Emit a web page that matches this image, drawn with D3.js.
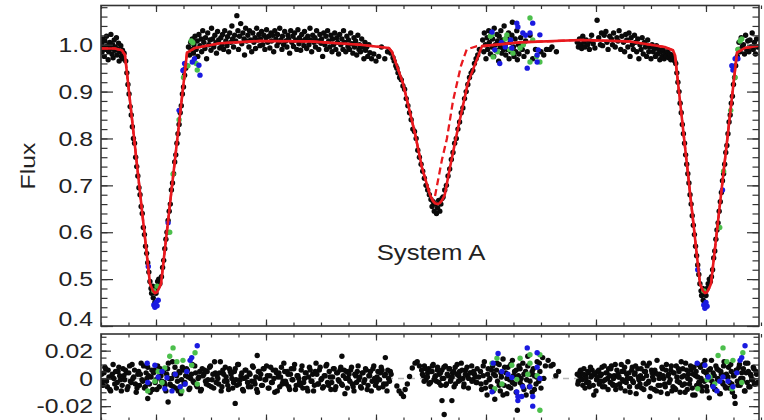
<!DOCTYPE html>
<html><head><meta charset="utf-8">
<script src="https://cdn.jsdelivr.net/npm/d3@7"></script>
<style>html,body{margin:0;padding:0;background:#fff;}svg{display:block;}</style>
</head><body><svg id="c" width="764" height="420"></svg>
<script>
// ---------------- DATA ----------------
const phaseMajorTicks = [0, 0.2, 0.4, 0.6, 0.8, 1.0];
const fluxTicks = [0.4, 0.5, 0.6, 0.7, 0.8, 0.9, 1.0];
const fluxTickLabels = ["0.4", "0.5", "0.6", "0.7", "0.8", "0.9", "1.0"];
const residTicks = [-0.02, 0, 0.02];
const residTickLabels = ["-0.02", "0", "0.02"];
const panelTitle = "System A";
const yTitle = "Flux";

// model light curve (solid) and alternative model (dashed): [phase, flux]
const modelSolid = [[-0.1,0.992],[-0.075,0.992],[-0.062,0.988],[-0.0564,0.978],[-0.0109,0.49],[-0.0055,0.475],[-0.0018,0.47],[0.0018,0.472],[0.0055,0.48],[0.0091,0.49],[0.0564,0.983],[0.071,0.993],[0.116,1.003],[0.189,1.008],[0.28,1.007],[0.371,1.0],[0.4236,0.993],[0.429,0.985],[0.449,0.918],[0.471,0.81],[0.4836,0.738],[0.498,0.68],[0.503,0.668],[0.507,0.662],[0.512,0.66],[0.516,0.662],[0.52,0.668],[0.525,0.68],[0.5345,0.738],[0.547,0.81],[0.567,0.918],[0.5927,0.997],[0.662,1.005],[0.771,1.01],[0.862,1.007],[0.925,0.995],[0.94,0.988],[0.9436,0.978],[0.9891,0.49],[0.9945,0.475],[0.9982,0.47],[1.0018,0.472],[1.0055,0.48],[1.0091,0.49],[1.0564,0.983],[1.071,0.993],[1.0964,0.998]];
const modelDashed = [[-0.1,0.992],[-0.075,0.992],[-0.062,0.988],[-0.0564,0.978],[-0.0109,0.49],[-0.0055,0.475],[-0.0018,0.47],[0.0018,0.472],[0.0055,0.48],[0.0091,0.49],[0.0564,0.983],[0.071,0.993],[0.116,1.003],[0.189,1.008],[0.28,1.007],[0.371,1.0],[0.4236,0.993],[0.429,0.985],[0.449,0.918],[0.471,0.81],[0.4836,0.738],[0.498,0.68],[0.503,0.668],[0.507,0.675],[0.511,0.70],[0.52,0.755],[0.529,0.80],[0.54,0.88],[0.5545,0.955],[0.565,0.99],[0.5836,0.997],[0.5927,0.997],[0.662,1.005],[0.771,1.01],[0.862,1.007],[0.925,0.995],[0.94,0.988],[0.9436,0.978],[0.9891,0.49],[0.9945,0.475],[0.9982,0.47],[1.0018,0.472],[1.0055,0.48],[1.0091,0.49],[1.0564,0.983],[1.071,0.993],[1.0964,0.998]];

// black observations, top panel: [phase, flux]
const blackFlux = [
[-0.099,1.002],[-0.098,0.985],[-0.097,1.012],[-0.095,0.995],[-0.094,0.975],[-0.093,1.008],[-0.091,0.99],[-0.09,1.018],[-0.088,0.998],[-0.087,0.968],[-0.086,0.985],[-0.084,1.005],[-0.083,0.992],[-0.082,1.022],[-0.08,0.98],[-0.079,1.0],[-0.078,0.972],[-0.076,1.01],[-0.075,0.988],[-0.074,0.995],[-0.072,1.015],[-0.071,0.978],[-0.07,0.99],[-0.068,1.003],[-0.067,0.965],[-0.066,0.985],[-0.064,0.998],[-0.063,0.975],[-0.061,0.988],[-0.06,0.97],[-0.058,0.982],
[-0.055,0.965],[-0.053,0.94],[-0.051,0.915],[-0.049,0.895],[-0.047,0.868],[-0.045,0.85],[-0.043,0.825],[-0.041,0.80],[-0.039,0.79],[-0.037,0.76],[-0.035,0.74],[-0.033,0.72],[-0.031,0.695],[-0.029,0.68],[-0.027,0.655],[-0.025,0.64],[-0.023,0.61],[-0.021,0.595],[-0.019,0.57],[-0.017,0.555],[-0.015,0.535],[-0.013,0.515],
[-0.011,0.495],[-0.009,0.48],[-0.008,0.47],[-0.006,0.485],[-0.005,0.46],[-0.003,0.475],[-0.002,0.45],[0.0,0.47],[0.002,0.482],[0.003,0.495],[0.005,0.5],[0.007,0.49],
[0.01,0.505],[0.012,0.525],[0.014,0.54],[0.016,0.565],[0.018,0.585],[0.02,0.6],[0.022,0.625],[0.024,0.645],[0.026,0.66],[0.028,0.69],[0.03,0.705],[0.032,0.725],[0.034,0.75],[0.036,0.765],[0.038,0.79],[0.04,0.81],[0.042,0.83],[0.044,0.855],[0.046,0.87],[0.048,0.895],[0.05,0.91],[0.052,0.935],[0.054,0.95],
[0.059,0.995],[0.061,0.978],[0.063,1.005],[0.064,0.99],[0.066,1.012],[0.068,0.982],[0.069,1.0],[0.071,1.018],[0.073,0.99],[0.075,1.008],[0.076,0.975],[0.078,1.022],[0.08,0.998],[0.082,1.012],[0.083,0.985],[0.085,1.03],[0.087,1.005],[0.089,0.992],[0.09,1.015],[0.092,0.97],[0.094,1.025],[0.096,1.0],[0.098,1.01],[0.1,0.988],[0.101,1.035],[0.103,1.012],[0.105,0.995],[0.107,1.02],[0.109,1.004],[0.11,0.982],[0.112,1.028],[0.114,1.01],[0.116,0.993],[0.118,1.015],[0.12,1.0],[0.121,1.022],[0.123,0.99],[0.125,1.03],[0.127,1.008],[0.129,0.998],[0.13,1.017],[0.132,0.985],[0.134,1.025],[0.136,1.005],[0.138,1.04],[0.139,1.012],[0.141,0.995],[0.143,1.02],[0.145,1.008],[0.147,1.062],[0.149,1.03],[0.15,0.99],[0.152,1.018],[0.154,1.045],[0.156,1.002],[0.158,1.025],[0.16,1.012],[0.161,0.978],[0.163,1.035],[0.165,1.008],[0.167,1.02],[0.169,0.995],[0.17,1.03],[0.172,1.01],[0.174,0.985],[0.176,1.025],[0.178,1.005],[0.18,1.015],[0.181,0.992],[0.183,1.035],[0.185,1.01],[0.187,1.022],[0.189,0.998],[0.19,1.012],[0.192,1.028],[0.194,1.0],[0.196,1.02],[0.198,0.99],[0.2,1.015],[0.201,1.032],[0.203,1.005],[0.205,1.018],[0.207,0.993],[0.209,1.025],[0.21,1.008],[0.212,1.02],[0.214,0.985],[0.216,1.03],[0.218,1.012],[0.22,0.998],[0.221,1.022],[0.223,1.005],[0.225,1.035],[0.227,1.01],[0.229,0.99],[0.23,1.018],[0.232,1.0],[0.234,1.028],[0.236,1.008],[0.238,0.995],[0.24,1.02],[0.241,1.012],[0.243,0.982],[0.245,1.03],[0.247,1.005],[0.249,1.018],[0.25,0.996],[0.252,1.025],[0.254,1.01],[0.256,0.99],[0.258,1.032],[0.26,1.002],[0.261,1.015],[0.263,0.988],[0.265,1.022],[0.267,1.008],[0.269,0.998],[0.27,1.028],[0.272,1.012],[0.274,0.992],[0.276,1.018],[0.278,1.0],[0.28,1.035],[0.281,1.01],[0.283,0.985],[0.285,1.02],[0.287,1.005],[0.289,1.015],[0.29,0.995],[0.292,1.03],[0.294,1.008],[0.296,0.99],[0.298,1.022],[0.3,1.003],[0.301,1.012],[0.303,0.975],[0.305,1.025],[0.307,1.0],[0.309,1.018],[0.31,0.99],[0.312,1.03],[0.314,1.008],[0.316,0.995],[0.318,1.02],[0.32,0.985],[0.321,1.012],[0.323,1.0],[0.325,1.025],[0.327,0.99],[0.329,1.015],[0.33,1.005],[0.332,0.98],[0.334,1.022],[0.336,1.0],[0.338,1.012],[0.34,0.99],[0.341,1.03],[0.343,1.005],[0.345,0.985],[0.347,1.018],[0.349,0.996],[0.35,1.01],[0.352,0.99],[0.354,1.025],[0.356,1.002],[0.358,0.982],[0.36,1.015],[0.361,0.995],[0.363,1.008],[0.365,0.978],[0.367,1.02],[0.369,0.99],[0.37,1.0],[0.372,0.985],[0.374,1.012],[0.376,0.995],[0.378,0.97],[0.38,1.005],[0.381,0.988],[0.383,0.995],[0.385,0.975],[0.387,1.0],[0.389,0.983],[0.392,0.97],[0.396,0.98],[0.4,0.965],[0.405,0.975],[0.41,0.995],[0.416,0.97],[0.421,0.985],
[0.427,0.982],[0.431,0.972],[0.433,0.965],[0.436,0.955],[0.438,0.95],[0.44,0.94],[0.443,0.93],[0.446,0.925],[0.449,0.912],[0.452,0.905],[0.455,0.885],[0.458,0.87],[0.461,0.855],[0.464,0.84],[0.467,0.82],[0.47,0.815],[0.473,0.8],[0.476,0.775],[0.479,0.76],[0.482,0.745],[0.485,0.73],[0.488,0.715],[0.491,0.7],[0.494,0.69],[0.497,0.68],
[0.5,0.67],[0.502,0.655],[0.504,0.665],[0.506,0.645],[0.508,0.66],[0.51,0.64],[0.512,0.652],[0.514,0.668],[0.516,0.645],[0.518,0.66],[0.52,0.672],[0.522,0.675],
[0.525,0.69],[0.528,0.7],[0.531,0.72],[0.534,0.735],[0.537,0.755],[0.54,0.77],[0.543,0.79],[0.546,0.8],[0.549,0.82],[0.552,0.835],[0.555,0.855],[0.558,0.865],[0.561,0.885],[0.564,0.9],[0.567,0.915],[0.57,0.93],[0.573,0.94],[0.576,0.945],[0.579,0.96],[0.582,0.97],[0.585,0.978],[0.588,0.99],
[0.594,1.01],[0.596,0.985],[0.597,1.025],[0.599,1.0],[0.6,0.97],[0.602,1.015],[0.603,0.99],[0.605,1.03],[0.606,1.005],[0.608,0.98],[0.609,1.02],[0.611,0.995],[0.612,1.012],[0.614,0.975],[0.615,1.035],[0.617,1.0],[0.618,0.988],[0.62,1.022],[0.621,1.008],[0.623,0.965],[0.624,1.018],[0.626,0.995],[0.627,1.03],[0.629,0.982],[0.63,1.01],[0.632,0.99],[0.633,1.04],[0.635,1.0],[0.636,0.978],[0.638,1.015],[0.639,0.99],[0.641,1.025],[0.642,0.97],[0.644,1.005],[0.645,0.985],[0.647,1.02],[0.648,1.048],[0.65,0.995],[0.651,0.975],[0.653,1.012],[0.654,0.985],[0.656,1.03],[0.657,0.968],[0.659,1.0],[0.66,0.98],[0.663,1.015],[0.666,0.99],[0.669,0.975],[0.672,1.008],[0.675,0.985],[0.68,1.02],[0.685,0.97],[0.69,0.99],[0.7,0.985],[0.705,0.978],[0.71,0.99],[0.716,0.99],[0.72,0.995],[0.728,0.985],
[0.766,1.005],[0.768,0.995],[0.77,1.012],[0.772,1.0],[0.774,0.992],[0.776,1.018],[0.778,1.005],[0.78,0.995],[0.782,1.01],[0.785,1.0],[0.788,0.99],[0.79,1.008],[0.792,1.02],[0.795,1.002],[0.798,0.993],[0.802,1.052],[0.805,1.015],[0.808,1.0],[0.81,1.025],[0.812,0.998],[0.815,1.02],[0.818,1.028],[0.82,1.005],[0.822,0.99],[0.825,1.018],[0.828,1.012],[0.83,1.0],[0.832,1.025],[0.835,0.995],[0.838,1.015],[0.84,1.008],[0.842,1.03],[0.845,0.99],[0.847,1.018],[0.85,1.005],[0.852,0.985],[0.854,1.022],[0.856,1.01],[0.858,0.995],[0.86,1.025],[0.862,0.975],[0.864,1.015],[0.866,1.0],[0.868,0.99],[0.87,1.02],[0.872,1.005],[0.874,0.985],[0.876,1.012],[0.878,0.97],[0.88,1.0],[0.882,0.99],[0.884,1.015],[0.886,0.98],[0.888,1.005],[0.89,0.995],[0.892,0.975],[0.894,1.01],[0.896,0.985],[0.898,0.995],[0.9,0.97],[0.902,1.0],[0.904,0.985],[0.906,0.992],[0.908,0.975],[0.91,0.998],[0.912,0.98],[0.914,0.99],[0.916,0.968],[0.918,0.985],[0.92,0.975],[0.922,0.99],[0.924,0.97],[0.926,0.982],[0.928,0.975],[0.93,0.985],[0.932,0.972],[0.934,0.98],[0.936,0.968],[0.938,0.978],
[0.941,0.97],[0.943,0.965],[0.945,0.96],[0.947,0.94],[0.949,0.92],[0.951,0.9],[0.953,0.875],[0.955,0.855],[0.957,0.83],[0.959,0.81],[0.961,0.79],[0.963,0.765],[0.965,0.745],[0.967,0.725],[0.969,0.705],[0.971,0.68],[0.973,0.66],[0.975,0.635],[0.977,0.615],[0.979,0.595],[0.981,0.57],[0.983,0.55],[0.985,0.53],[0.987,0.51],
[0.989,0.49],[0.991,0.475],[0.992,0.465],[0.994,0.48],[0.995,0.455],[0.997,0.47],[0.998,0.45],[1.0,0.465],[1.002,0.48],[1.004,0.49],[1.006,0.5],[1.008,0.495],
[1.01,0.505],[1.012,0.52],[1.014,0.545],[1.016,0.56],[1.018,0.585],[1.02,0.605],[1.022,0.62],[1.024,0.645],[1.026,0.665],[1.028,0.685],[1.03,0.71],[1.032,0.725],[1.034,0.745],[1.036,0.77],[1.038,0.785],[1.04,0.81],[1.042,0.835],[1.044,0.85],[1.046,0.875],[1.048,0.89],[1.05,0.915],[1.052,0.93],[1.054,0.955],
[1.057,0.975],[1.059,0.99],[1.06,1.005],[1.062,0.985],[1.064,1.015],[1.066,0.995],[1.068,1.0],[1.07,0.98],[1.072,1.02],[1.074,0.99],[1.076,1.008],[1.078,0.985],[1.08,1.01],[1.082,0.995],[1.084,1.025],[1.086,0.99],[1.088,1.005],[1.09,0.98],[1.092,1.012],[1.094,0.995]
];

// green and blue observations, top panel: [phase, flux]
const greenFlux = [[0.025,0.6],[0.031,0.724],[0.042,0.84],[0.05,0.93],[0.058,0.955],[0.064,1.008],[0.067,1.004],[0.075,0.946],[0.073,0.96],[-0.004,0.475],[0.002,0.485],[0.608,1.018],[0.611,1.021],[0.613,0.974],[0.621,0.985],[0.635,1.012],[0.638,1.021],[0.643,0.99],[0.649,0.982],[0.662,0.993],[0.668,1.0],[0.68,1.057],[0.68,0.963],[0.685,1.01],[0.698,0.963],[0.692,0.975],[1.025,0.61],[1.032,0.73],[1.045,0.86],[1.053,0.93],[1.058,0.99],[1.062,1.008],[1.065,1.012],[0.996,0.475]];
const blueFlux = [[-0.014,0.527],[-0.004,0.445],[-0.002,0.44],[0.0,0.45],[0.002,0.443],[0.004,0.455],[0.022,0.62],[0.042,0.86],[0.049,0.945],[0.052,0.96],[0.066,0.963],[0.07,0.97],[0.078,0.956],[0.08,0.935],[0.05,0.946],[0.611,1.027],[0.616,0.989],[0.625,0.96],[0.628,1.005],[0.635,0.995],[0.645,1.01],[0.647,0.993],[0.656,1.046],[0.658,1.038],[0.667,1.025],[0.672,1.02],[0.675,0.95],[0.68,1.025],[0.685,1.046],[0.693,0.963],[0.695,0.989],[0.693,0.978],[0.698,1.021],[0.996,0.445],[0.998,0.438],[1.0,0.45],[1.002,0.442],[1.047,0.955],[1.049,0.946],[1.053,0.97],[1.058,0.97],[1.03,0.69],[0.985,0.52]];

// black residuals, bottom panel: [phase, residual]
const blackResid = [
[-0.099,0.003],[-0.096,-0.005],[-0.093,0.008],[-0.09,-0.002],[-0.087,0.006],[-0.084,-0.008],[-0.081,0.001],[-0.078,0.010],[-0.075,-0.004],[-0.072,-0.007],[-0.069,0.005],[-0.066,0.002],[-0.063,-0.009],[-0.06,0.007],[-0.057,-0.001],[-0.054,0.004],[-0.051,-0.006],[-0.048,0.009],[-0.045,-0.003],[-0.042,0.0],
[-0.039,0.006],[-0.036,-0.010],[-0.033,0.003],[-0.03,-0.005],[-0.027,0.011],[-0.024,-0.002],[-0.021,-0.007],[-0.018,0.004],[-0.015,0.008],[-0.012,-0.004],[-0.009,0.001],[-0.006,-0.008],[-0.003,0.006],[0.0,-0.001],[0.003,0.009],[0.006,-0.006],[0.009,0.002],[0.012,0.005],[0.015,-0.003],[0.018,-0.009],
[0.021,0.007],[0.024,0.0],[0.027,-0.005],[0.03,0.012],[0.033,0.003],[0.036,-0.007],[0.039,-0.002],[0.042,0.005],[0.045,-0.011],[0.048,0.008],[0.051,-0.004],[0.054,0.002],[0.057,0.006],[0.06,-0.008],[0.063,0.0],[0.066,0.010],[0.069,-0.003],[0.072,0.004],[0.075,-0.006],[0.078,0.001],
[0.081,-0.009],[0.084,0.007],[0.087,0.003],[0.09,-0.002],[0.093,0.005],[0.096,-0.005],[0.099,0.009],[0.102,-0.001],[0.105,-0.007],[0.108,0.004],[0.111,0.002],[0.114,-0.004],[0.117,0.012],[0.12,-0.006],[0.123,0.003],[0.126,0.008],[0.129,-0.002],[0.132,-0.008],[0.135,0.005],[0.138,0.0],
[0.141,-0.003],[0.144,0.007],[0.147,-0.005],[0.15,0.010],[0.153,-0.001],[0.156,0.004],[0.159,-0.009],[0.162,0.006],[0.165,0.001],[0.168,-0.006],[0.171,0.003],[0.174,-0.002],[0.177,0.008],[0.18,-0.004],[0.183,-0.008],[0.186,0.005],[0.189,0.0],[0.192,-0.005],[0.195,0.007],[0.198,-0.001],
[0.201,0.009],[0.204,-0.007],[0.207,0.002],[0.21,-0.003],[0.213,0.006],[0.216,-0.010],[0.219,0.004],[0.222,0.001],[0.225,-0.006],[0.228,0.008],[0.231,-0.002],[0.234,0.005],[0.237,-0.004],[0.24,0.003],[0.243,-0.008],[0.246,0.007],[0.249,-0.001],[0.252,0.010],[0.255,-0.005],[0.258,0.002],
[0.261,-0.003],[0.264,0.006],[0.267,-0.007],[0.27,0.0],[0.273,0.004],[0.276,-0.009],[0.279,0.008],[0.282,-0.002],[0.285,0.003],[0.288,-0.005],[0.291,0.011],[0.294,-0.004],[0.297,0.006],[0.3,-0.001],[0.303,-0.007],[0.306,0.002],[0.309,0.009],[0.312,-0.003],[0.315,0.005],[0.318,-0.008],
[0.321,0.001],[0.324,0.007],[0.327,-0.006],[0.33,0.004],[0.333,-0.002],[0.336,0.008],[0.339,-0.005],[0.342,0.006],[0.345,0.0],[0.348,-0.007],[0.351,0.003],[0.354,0.006],[0.357,-0.004],[0.36,-0.009],[0.363,0.002],[0.366,0.005],[0.369,-0.001],[0.372,-0.006],[0.375,0.004],[0.378,-0.003],
[0.381,0.007],[0.384,-0.008],[0.387,0.002],[0.39,0.005],[0.393,-0.002],[0.396,0.009],[0.399,-0.005],[0.402,0.001],[0.405,-0.007],[0.408,0.004],[0.411,0.006],[0.414,-0.004],[0.417,0.003],[0.42,-0.009],[0.423,0.0],[0.426,0.005],
[0.144,-0.018],[0.022,-0.017],[0.184,0.0165],[0.338,0.016],[0.417,0.015],[-0.015,-0.0145],
[0.438,-0.0055],[0.442,-0.009],[0.446,-0.011],[0.45,-0.013],[0.453,-0.008],[0.457,-0.004],[0.461,0.0014],[0.466,0.0075],[0.471,0.011],[0.475,0.012],[0.479,0.009],
[0.483,0.006],[0.486,0.002],[0.488,0.009],[0.491,-0.001],[0.494,0.004],[0.496,0.007],[0.499,-0.003],[0.502,0.005],[0.504,0.010],[0.507,0.001],[0.51,-0.002],[0.512,0.008],[0.515,0.003],[0.518,-0.005],[0.52,0.006],[0.523,0.0],[0.526,0.009],[0.528,-0.004],[0.531,0.002],[0.534,0.007],
[0.536,-0.001],[0.539,0.004],[0.542,-0.006],[0.544,0.008],[0.547,0.003],[0.55,-0.002],[0.552,0.005],[0.555,0.011],[0.558,0.0],[0.56,-0.004],[0.563,0.006],[0.566,0.002],[0.568,-0.007],[0.571,0.004],[0.574,0.009],[0.576,-0.001],[0.579,0.003],[0.582,-0.003],[0.584,0.007],[0.587,0.001],
[0.52,-0.016],[0.538,-0.016],[0.524,-0.026],
[0.59,0.005],[0.592,-0.008],[0.595,0.002],[0.597,0.012],[0.6,-0.003],[0.602,-0.012],[0.604,0.007],[0.607,0.0],[0.609,-0.006],[0.612,0.009],[0.614,0.003],[0.616,-0.015],[0.619,0.006],[0.621,-0.002],[0.624,0.010],[0.626,-0.009],[0.628,0.001],[0.631,0.014],[0.633,-0.005],[0.636,0.004],
[0.638,-0.011],[0.64,0.008],[0.643,-0.001],[0.645,-0.007],[0.648,0.013],[0.65,0.002],[0.652,-0.004],[0.655,0.006],[0.657,-0.023],[0.66,0.009],[0.662,-0.003],[0.664,0.0],[0.667,0.011],[0.669,-0.008],[0.672,0.005],[0.674,-0.001],[0.676,0.016],[0.679,-0.006],[0.681,0.003],[0.684,-0.010],
[0.686,0.007],[0.688,0.002],[0.691,-0.004],[0.693,0.012],[0.696,-0.002],[0.698,0.005],[0.7,-0.007],[0.703,0.015],[0.705,0.0],[0.708,0.009],
[0.713,0.013],[0.718,0.009],[0.722,0.010],[0.727,0.002],[0.732,0.005],
[0.766,0.003],[0.768,-0.002],[0.771,0.005],[0.773,0.0],[0.776,-0.005],[0.778,0.007],[0.781,0.002],[0.783,-0.003],[0.786,0.004],[0.788,-0.006],
[0.791,0.001],[0.793,0.006],[0.796,-0.012],[0.798,0.003],[0.801,-0.001],[0.803,0.005],[0.806,-0.004],[0.808,0.002],[0.811,0.008],[0.813,-0.002],
[0.816,-0.006],[0.818,0.004],[0.821,0.0],[0.823,0.007],[0.826,-0.003],[0.828,0.009],[0.831,-0.005],[0.833,0.002],[0.836,-0.008],[0.838,0.006],
[0.841,0.001],[0.843,-0.004],[0.846,0.010],[0.848,-0.001],[0.851,0.005],[0.853,-0.009],[0.856,0.003],[0.858,0.012],[0.861,-0.006],[0.863,0.0],
[0.866,0.008],[0.868,-0.003],[0.871,0.004],[0.873,-0.011],[0.876,0.007],[0.878,-0.001],[0.881,0.002],[0.883,-0.007],[0.886,0.011],[0.888,0.005],
[0.891,-0.004],[0.893,0.009],[0.896,-0.002],[0.898,-0.013],[0.901,0.006],[0.903,0.001],[0.906,-0.008],[0.908,0.004],[0.911,0.013],[0.913,-0.005],
[0.916,0.003],[0.918,-0.010],[0.921,0.007],[0.923,0.0],[0.926,-0.006],[0.928,0.010],[0.931,0.002],[0.933,-0.003],[0.936,0.006],[0.938,-0.009],
[0.941,0.004],[0.943,-0.007],[0.946,0.009],[0.948,-0.002],[0.951,0.005],[0.953,-0.010],[0.956,0.001],[0.958,0.007],[0.961,-0.004],[0.963,0.011],
[0.966,-0.008],[0.968,0.003],[0.971,-0.001],[0.973,0.006],[0.976,-0.012],[0.978,0.008],[0.981,0.002],[0.983,-0.005],[0.986,0.010],[0.988,-0.003],
[0.991,0.0],[0.993,-0.009],[0.996,0.005],[0.998,0.013],[1.001,-0.006],[1.003,0.002],[1.006,-0.014],[1.008,0.007],[1.011,-0.002],[1.013,0.004],
[1.016,-0.008],[1.018,0.009],[1.021,-0.001],[1.023,0.006],[1.026,-0.011],[1.028,0.003],[1.031,-0.004],[1.033,0.012],[1.036,-0.007],[1.038,0.001],
[1.041,0.008],[1.043,-0.003],[1.046,0.005],[1.048,-0.010],[1.051,0.002],[1.053,-0.018],[1.056,0.006],[1.058,-0.005],[1.061,0.010],[1.063,0.0],
[1.066,-0.002],[1.068,0.007],[1.071,-0.009],[1.073,0.004],[1.076,0.011],[1.078,-0.006],[1.081,0.003],[1.083,-0.001],[1.086,0.008],[1.088,-0.004],
[1.091,0.005],[1.094,-0.003]
];
// second set of black residuals (interleaved observations): [phase, residual]
const blackResidB = [
[-0.0975,-0.002],[-0.0945,0.004],[-0.0915,0.007],[-0.0885,-0.006],[-0.0855,0.001],[-0.0825,-0.009],[-0.0795,0.003],[-0.0765,0.0],[-0.0735,0.005],[-0.0705,-0.003],
[-0.0675,0.008],[-0.0645,-0.001],[-0.0615,-0.005],[-0.0585,0.002],[-0.0555,0.006],[-0.0525,-0.008],[-0.0495,0.004],[-0.0465,-0.002],[-0.0435,0.010],[-0.0405,0.001],
[-0.0375,-0.004],[-0.0345,-0.007],[-0.0315,0.005],[-0.0285,0.003],[-0.0255,-0.001],[-0.0225,0.009],[-0.0195,-0.006],[-0.0165,0.0],[-0.0135,0.002],[-0.0105,-0.010],
[-0.0075,0.006],[-0.0045,0.004],[-0.0015,-0.003],[0.0015,-0.008],[0.0045,0.001],[0.0075,0.007],[0.0105,-0.002],[0.0135,0.005],[0.0165,-0.005],[0.0195,0.003],
[0.0225,0.011],[0.0255,-0.004],[0.0285,0.0],[0.0315,-0.006],[0.0345,0.008],[0.0375,0.002],[0.0405,-0.009],[0.0435,0.004],[0.0465,-0.001],[0.0495,0.006],
[0.0525,-0.003],[0.0555,0.007],[0.0585,0.001],[0.0615,-0.007],[0.0645,0.003],[0.0675,-0.002],[0.0705,0.009],[0.0735,-0.005],[0.0765,0.0],[0.0795,0.005],
[0.0825,-0.008],[0.0855,0.002],[0.0885,0.006],[0.0915,-0.004],[0.0945,-0.001],[0.0975,0.008],[0.1005,-0.006],[0.1035,0.003],[0.1065,0.012],[0.1095,-0.003],
[0.1125,0.0],[0.1155,0.004],[0.1185,-0.009],[0.1215,0.006],[0.1245,-0.002],[0.1275,0.001],[0.1305,-0.005],[0.1335,0.007],[0.1365,0.003],[0.1395,-0.007],
[0.1425,0.005],[0.1455,-0.001],[0.1485,0.010],[0.1515,-0.004],[0.1545,0.002],[0.1575,-0.008],[0.1605,0.0],[0.1635,0.006],[0.1665,-0.003],[0.1695,0.004],
[0.1725,-0.006],[0.1755,0.009],[0.1785,-0.002],[0.1815,0.001],[0.1845,-0.010],[0.1875,0.005],[0.1905,0.003],[0.1935,-0.005],[0.1965,0.007],[0.1995,-0.001],
[0.2025,0.002],[0.2055,-0.007],[0.2085,0.008],[0.2115,-0.003],[0.2145,0.0],[0.2175,0.006],[0.2205,-0.009],[0.2235,0.004],[0.2265,0.001],[0.2295,-0.004],
[0.2325,0.011],[0.2355,-0.002],[0.2385,0.005],[0.2415,-0.006],[0.2445,0.003],[0.2475,-0.001],[0.2505,0.007],[0.2535,-0.008],[0.2565,0.002],[0.2595,0.0],
[0.2625,-0.005],[0.2655,0.009],[0.2685,-0.003],[0.2715,0.004],[0.2745,-0.007],[0.2775,0.001],[0.2805,0.006],[0.2835,-0.002],[0.2865,-0.009],[0.2895,0.005],
[0.2925,0.003],[0.2955,-0.004],[0.2985,0.008],[0.3015,0.0],[0.3045,-0.006],[0.3075,0.002],[0.3105,0.010],[0.3135,-0.005],[0.3165,0.001],[0.3195,-0.003],
[0.3225,0.007],[0.3255,-0.008],[0.3285,0.004],[0.3315,-0.001],[0.3345,0.006],[0.3375,-0.004],[0.3405,0.002],[0.3435,-0.011],[0.3465,0.005],[0.3495,0.0],
[0.3525,-0.002],[0.3555,0.008],[0.3585,-0.006],[0.3615,0.003],[0.3645,-0.003],[0.3675,0.009],[0.3705,0.001],[0.3735,-0.007],[0.3765,0.004],[0.3795,-0.001],
[0.3825,0.006],[0.3855,-0.005],[0.3885,0.002],[0.3915,-0.009],[0.3945,0.007],[0.3975,0.0],[0.4005,-0.003],[0.4035,0.005],[0.4065,-0.001],[0.4095,0.008],
[0.4125,-0.006],[0.4155,0.002],[0.4185,-0.004],[0.4215,0.006],[0.4245,-0.002],[0.4275,0.003],
[0.4845,0.003],[0.4875,-0.002],[0.4905,0.007],[0.4935,0.001],[0.4965,-0.004],[0.4995,0.005],[0.5025,0.009],[0.5055,-0.001],[0.5085,0.002],[0.5115,0.006],
[0.5145,-0.003],[0.5175,0.004],[0.5205,0.0],[0.5235,0.008],[0.5265,-0.005],[0.5295,0.003],[0.5325,0.007],[0.5355,-0.002],[0.5385,0.001],[0.5415,0.005],
[0.5445,-0.004],[0.5475,0.010],[0.5505,0.002],[0.5535,-0.001],[0.5565,0.006],[0.5595,-0.006],[0.5625,0.003],[0.5655,0.008],[0.5685,0.0],[0.5715,0.004],
[0.5745,-0.002],[0.5775,0.005],[0.5805,0.001],[0.5835,-0.003],
[0.591,-0.004],[0.595,0.009],[0.599,-0.007],[0.603,0.003],[0.606,-0.001],[0.61,0.006],[0.613,-0.009],[0.617,0.002],[0.62,0.011],[0.624,-0.005],
[0.627,0.004],[0.631,-0.012],[0.634,0.008],[0.638,0.0],[0.641,-0.006],[0.645,0.010],[0.648,-0.003],[0.652,0.005],[0.655,-0.010],[0.659,0.002],
[0.662,0.007],[0.666,-0.005],[0.669,0.003],[0.673,-0.012],[0.676,0.009],[0.68,-0.002],[0.684,0.005],[0.688,-0.008],[0.692,0.001],[0.697,0.011],
[0.767,-0.004],[0.77,0.002],[0.772,0.006],[0.775,-0.001],[0.777,0.003],[0.78,-0.007],[0.782,0.0],[0.785,0.005],[0.787,-0.003],[0.79,0.008],
[0.792,0.002],[0.795,-0.005],[0.797,0.004],[0.8,-0.009],[0.802,0.001],[0.805,0.006],[0.807,-0.002],[0.81,0.003],[0.812,-0.006],[0.815,0.009],
[0.817,-0.001],[0.82,0.004],[0.822,-0.008],[0.825,0.002],[0.827,0.007],[0.83,-0.004],[0.832,0.0],[0.835,0.010],[0.837,-0.005],[0.84,0.003],
[0.842,0.001],[0.845,-0.007],[0.847,0.005],[0.85,-0.002],[0.852,0.008],[0.855,-0.003],[0.857,0.0],[0.86,0.004],[0.862,-0.010],[0.865,0.006],
[0.867,-0.002],[0.87,0.003],[0.872,0.009],[0.875,-0.006],[0.877,0.001],[0.88,-0.004],[0.882,0.007],[0.885,0.0],[0.887,-0.008],[0.89,0.005],
[0.892,0.002],[0.895,-0.003],[0.897,0.011],[0.9,-0.007],[0.902,0.004],[0.905,-0.001],[0.907,0.006],[0.91,-0.009],[0.912,0.003],[0.915,0.0],
[0.917,-0.005],[0.92,0.008],[0.922,0.002],[0.925,-0.004],[0.927,0.006],[0.93,-0.011],[0.932,0.003],[0.935,-0.001],[0.937,0.009],[0.94,-0.006],
[0.942,0.004],[0.945,-0.008],[0.947,0.001],[0.95,0.007],[0.952,-0.003],[0.955,0.012],[0.957,-0.005],[0.96,0.002],[0.962,-0.010],[0.965,0.006],
[0.967,0.0],[0.97,-0.004],[0.972,0.009],[0.975,-0.007],[0.977,0.003],[0.98,-0.012],[0.982,0.005],[0.985,0.001],[0.987,-0.003],[0.99,0.008],
[0.992,-0.006],[0.995,0.010],[0.997,-0.002],[1.0,0.004],[1.002,-0.009],[1.005,0.006],[1.007,-0.001],[1.01,0.013],[1.012,-0.005],[1.015,0.002],
[1.017,-0.008],[1.02,0.007],[1.022,0.0],[1.025,-0.011],[1.027,0.005],[1.03,-0.003],[1.032,0.009],[1.035,-0.006],[1.037,0.003],[1.04,0.001],
[1.042,-0.007],[1.045,0.010],[1.047,-0.004],[1.05,0.002],[1.052,-0.013],[1.055,0.006],[1.057,-0.002],[1.06,0.008],[1.062,-0.005],[1.065,0.004],
[1.067,0.0],[1.07,-0.009],[1.072,0.011],[1.075,-0.003],[1.077,0.005],[1.08,-0.006],[1.082,0.002],[1.085,-0.001],[1.087,0.007],[1.09,-0.004],
[1.092,0.003]
];

// green and blue residuals, bottom panel: [phase, residual]
const greenResid = [[0.031,0.022],[0.025,0.016],[0.038,0.012],[0.049,0.013],[0.071,0.0185],[-0.002,-0.002],[-0.015,-0.009],[0.011,-0.003],[0.016,0.0075],[0.004,0.005],[0.047,-0.009],[0.065,0.0095],[0.075,-0.004],
[0.611,0.011],[0.62,0.0145],[0.647,0.0095],[0.662,0.0145],[0.68,0.017],[0.698,0.017],[0.68,0.011],[0.629,-0.004],[0.616,-0.0075],[0.656,-0.0007],[0.676,0.003],[0.693,0.002],[0.698,-0.023],
[1.031,0.022],[1.022,0.0165],[1.038,0.012],[1.049,0.013],[1.067,0.0185],[0.985,-0.0075],[1.002,-0.001],[1.016,-0.004],[1.047,-0.0075],[1.065,-0.003],[1.007,0.001]];
const blueResid = [[0.075,0.0235],[0.065,0.015],[0.062,0.013],[-0.016,0.011],[-0.002,0.0095],[0.004,0.001],[-0.015,-0.003],[0.016,-0.0075],[0.02,0.0005],[0.035,0.003],[0.044,-0.006],[0.053,-0.004],[0.056,0.005],[0.029,-0.009],[0.011,0.005],
[0.622,0.018],[0.675,0.022],[0.693,0.0185],[0.613,0.011],[0.629,0.005],[0.64,0.003],[0.647,0.0007],[0.611,-0.0097],[0.656,-0.0097],[0.667,-0.006],[0.68,-0.006],[0.658,-0.013],[0.665,-0.013],[0.685,-0.013],[0.658,-0.016],[0.685,-0.02],[0.693,0.008],[0.698,0.0],
[1.071,0.0235],[1.065,0.015],[1.062,0.013],[0.984,0.011],[0.998,0.0095],[1.004,0.001],[1.013,-0.006],[1.02,-0.009],[1.031,0.001],[1.04,-0.002],[1.049,-0.006],[1.056,0.004],[1.025,-0.002]];

// ---------------- DRAWING ----------------
const svg = d3.select("#c");
const X0 = 101, X1 = 759;
const pTop = {t: 5.5, b: 326}, pBot = {t: 334, b: 421};
const FONT = "'Liberation Sans', Arial, Helvetica, sans-serif";
const STRETCH = 1.18;
const axisColor = "#333";

const x = d3.scaleLinear().domain([-0.1, 1.0964]).range([X0, X1]);
const yF = d3.scaleLinear().domain([0.4, 1.0836]).range([pTop.b, pTop.t]);
const yR = d3.scaleLinear().domain([-0.0307, 0.032]).range([pBot.b, pBot.t]);

const defs = svg.append("defs");
defs.append("clipPath").attr("id", "clipTop").append("rect")
  .attr("x", X0).attr("y", pTop.t).attr("width", X1 - X0).attr("height", pTop.b - pTop.t);
defs.append("clipPath").attr("id", "clipBot").append("rect")
  .attr("x", X0).attr("y", pBot.t).attr("width", X1 - X0).attr("height", pBot.b - pBot.t);

const phaseMinor = d3.range(-0.1, 1.1, 0.05);
const fluxMinor = d3.range(0.4, 1.09, 0.02);
const residMinor = d3.range(-0.03, 0.0325, 0.005);

function styleAxis(g) {
  g.select(".domain").remove();
  g.selectAll(".tick line").attr("stroke", axisColor).attr("stroke-width", 1.2);
}

function drawFrame(y, p, yMajor, yMinorVals, yLabels, yMajLen, yMinLen, labelAdjust) {
  const gl = svg.append("g").attr("transform", `translate(${X0},0)`)
    .call(d3.axisLeft(y).tickValues(yMajor).tickSize(-yMajLen).tickPadding(8)
      .tickFormat((d, i) => yLabels[i]));
  styleAxis(gl);
  gl.attr("font-family", FONT).attr("font-size", 21);
  gl.selectAll("text").attr("fill", "#222")
    .attr("transform", `scale(${STRETCH},1)`).attr("x", -8 / STRETCH)
    .attr("y", d => labelAdjust(d));
  svg.append("g").attr("transform", `translate(${X0},0)`)
    .call(d3.axisLeft(y).tickValues(yMinorVals).tickSize(-yMinLen).tickFormat(""))
    .call(styleAxis);
  svg.append("g").attr("transform", `translate(${X1},0)`)
    .call(d3.axisRight(y).tickValues(yMajor).tickSize(-yMajLen).tickFormat(""))
    .call(styleAxis);
  svg.append("g").attr("transform", `translate(${X1},0)`)
    .call(d3.axisRight(y).tickValues(yMinorVals).tickSize(-yMinLen).tickFormat(""))
    .call(styleAxis);
  svg.append("g").attr("transform", `translate(0,${p.t})`)
    .call(d3.axisTop(x).tickValues(phaseMajorTicks).tickSize(-6.5).tickFormat(""))
    .call(styleAxis);
  svg.append("g").attr("transform", `translate(0,${p.t})`)
    .call(d3.axisTop(x).tickValues(phaseMinor).tickSize(-3.5).tickFormat(""))
    .call(styleAxis);
  svg.append("g").attr("transform", `translate(0,${p.b})`)
    .call(d3.axisBottom(x).tickValues(phaseMajorTicks).tickSize(-6.5).tickFormat(""))
    .call(styleAxis);
  svg.append("g").attr("transform", `translate(0,${p.b})`)
    .call(d3.axisBottom(x).tickValues(phaseMinor).tickSize(-3.5).tickFormat(""))
    .call(styleAxis);
  svg.append("rect").attr("x", X0).attr("y", p.t).attr("width", X1 - X0).attr("height", p.b - p.t)
    .attr("fill", "none").attr("stroke", axisColor).attr("stroke-width", 1.6);
}

const R = 2.7;
const colBlack = "#0a0a0a", colGreen = "#4cbf4c", colBlue = "#1a1ae0", colRed = "#e8191e";

function dots(g, data, y, col) {
  g.append("g").selectAll("circle").data(data).join("circle")
    .attr("cx", d => x(d[0])).attr("cy", d => y(d[1])).attr("r", R).attr("fill", col);
}

// ---- top panel ----
const gTop = svg.append("g").attr("clip-path", "url(#clipTop)");
dots(gTop, blackFlux, yF, colBlack);
dots(gTop, greenFlux, yF, colGreen);
dots(gTop, blueFlux, yF, colBlue);
const line = d3.line().x(d => x(d[0])).y(d => yF(d[1]));
gTop.append("path").attr("d", line(modelDashed)).attr("fill", "none")
  .attr("stroke", colRed).attr("stroke-width", 2.3).attr("stroke-dasharray", "7,4");
gTop.append("path").attr("d", line(modelSolid)).attr("fill", "none")
  .attr("stroke", colRed).attr("stroke-width", 2.6).attr("stroke-linejoin", "round");

// ---- bottom panel ----
const gBot = svg.append("g").attr("clip-path", "url(#clipBot)");
gBot.append("line").attr("x1", X0).attr("x2", X1).attr("y1", yR(0)).attr("y2", yR(0))
  .attr("stroke", "#b8b8b8").attr("stroke-width", 1.5).attr("stroke-dasharray", "6,5");
dots(gBot, blackResid, yR, colBlack);
dots(gBot, blackResidB, yR, colBlack);
dots(gBot, greenResid, yR, colGreen);
dots(gBot, blueResid, yR, colBlue);

drawFrame(yF, pTop, fluxTicks, fluxMinor, fluxTickLabels, 12, 6.5, d => (d === 0.4 ? -7 : 0));
drawFrame(yR, pBot, residTicks, residMinor, residTickLabels, 10, 5.5, d => 0);

// ---- texts ----
svg.append("g").attr("transform", "translate(35,166) rotate(-90)")
  .append("text").attr("transform", `scale(${STRETCH},1)`)
  .attr("text-anchor", "middle").attr("font-family", FONT).attr("font-size", 21).attr("fill", "#222")
  .text(yTitle);
svg.append("g").attr("transform", "translate(431,260)")
  .append("text").attr("transform", "scale(1.17,1)")
  .attr("text-anchor", "middle").attr("font-family", FONT).attr("font-size", 22).attr("fill", "#222")
  .text(panelTitle);
</script></body></html>
